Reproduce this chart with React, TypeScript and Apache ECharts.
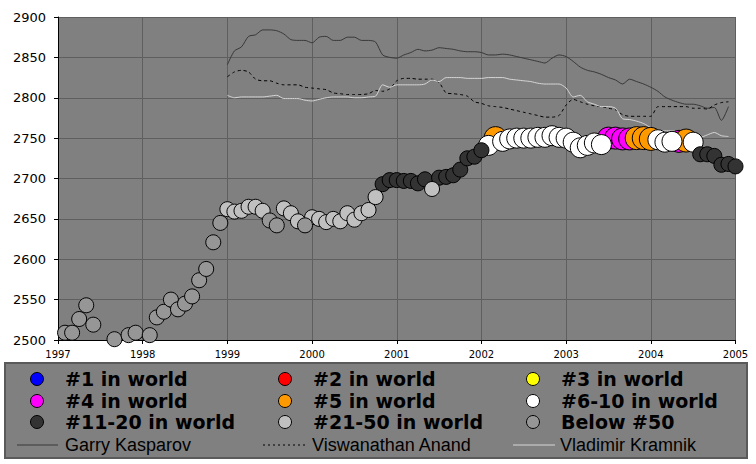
import React, { useEffect, useRef } from 'react';
import * as echarts from 'echarts';

// ---------- DATA ----------
const categories = [
  '#1 in world', '#2 in world', '#3 in world',
  '#4 in world', '#5 in world', '#6-10 in world',
  '#11-20 in world', '#21-50 in world', 'Below #50',
];

// player's monthly rating (month, rating, world-rank category index into `categories`)
const playerMonths = [
  '1997-02', '1997-03', '1997-04', '1997-05', '1997-06', '1997-09', '1997-11', '1997-12',
  '1998-02', '1998-03', '1998-04', '1998-05', '1998-06', '1998-07', '1998-08', '1998-09', '1998-10', '1998-11', '1998-12',
  '1999-01', '1999-02', '1999-03', '1999-04', '1999-05', '1999-06', '1999-07', '1999-08', '1999-09', '1999-10', '1999-11', '1999-12',
  '2000-01', '2000-02', '2000-03', '2000-04', '2000-05', '2000-06', '2000-07', '2000-08', '2000-09', '2000-10', '2000-11', '2000-12',
  '2001-01', '2001-02', '2001-03', '2001-04', '2001-05', '2001-06', '2001-07', '2001-08', '2001-09', '2001-10', '2001-11', '2001-12',
  '2002-01', '2002-02', '2002-03', '2002-04', '2002-05', '2002-06', '2002-07', '2002-08', '2002-09', '2002-10', '2002-11', '2002-12',
  '2003-01', '2003-02', '2003-03', '2003-04', '2003-05', '2003-06', '2003-07', '2003-08', '2003-09', '2003-10', '2003-11', '2003-12',
  '2004-01', '2004-02', '2004-03', '2004-04', '2004-05', '2004-06', '2004-07', '2004-08', '2004-09', '2004-10', '2004-11', '2004-12',
  '2005-01',
];
const playerRatings = [
  2509, 2509, 2526, 2543, 2519, 2501, 2506, 2509,
  2506, 2528, 2535, 2550, 2538, 2545, 2554, 2574, 2588, 2621, 2645,
  2662, 2659, 2660, 2665, 2665, 2660, 2648, 2642, 2663, 2657, 2647, 2642,
  2652, 2650, 2646, 2650, 2647, 2657, 2649, 2657, 2661, 2677, 2693, 2698,
  2698, 2697, 2697, 2694, 2699, 2687, 2701, 2702, 2704, 2711, 2725, 2727,
  2735, 2741, 2750, 2746, 2749, 2750, 2750, 2750, 2751, 2751, 2753, 2751,
  2750, 2745, 2738, 2741, 2744, 2742, 2750, 2750, 2749, 2749, 2750, 2750,
  2749, 2748, 2745, 2746, 2746, 2747, 2745, 2730, 2730, 2728, 2717, 2718,
  2715,
];
const playerRanks = [
  8, 8, 8, 8, 8, 8, 8, 8,
  8, 8, 8, 8, 8, 8, 8, 8, 8, 8, 8,
  7, 7, 7, 7, 7, 7, 8, 8, 7, 7, 7, 8,
  7, 7, 7, 7, 7, 7, 7, 7, 7, 7, 6, 6,
  6, 6, 6, 6, 6, 7, 6, 6, 6, 6, 6, 6,
  6, 5, 4, 5, 5, 5, 5, 5, 5, 5, 5, 5,
  5, 5, 5, 5, 5, 5, 3, 3, 3, 3, 4, 4,
  4, 5, 5, 5, 3, 4, 5, 6, 6, 6, 6, 6,
  6,
];

// comparison players, consecutive months from 1999-01 to 2004-12
const lineStartMonth = '1999-01';
const kasparov = [
  2841, 2858, 2863, 2876, 2878, 2884, 2884, 2883, 2879, 2872, 2871, 2871,
  2868, 2875, 2876, 2871, 2871, 2875, 2875, 2871, 2871, 2869, 2853, 2850,
  2849, 2853, 2856, 2860, 2858, 2859, 2862, 2861, 2860, 2858, 2857, 2857,
  2856, 2853, 2853, 2854, 2853, 2851, 2849, 2847, 2845, 2843, 2849, 2853,
  2851, 2845, 2838, 2834, 2832, 2829, 2825, 2822, 2817, 2823, 2820, 2817,
  2813, 2808, 2801, 2797, 2794, 2792, 2792, 2790, 2787, 2788, 2772, 2789,
];
const anand = [
  2826, 2832, 2834, 2832, 2823, 2821, 2821, 2818, 2816, 2816, 2816, 2813,
  2812, 2811, 2810, 2806, 2805, 2804, 2804, 2804, 2805, 2809, 2808, 2811,
  2821, 2824, 2824, 2823, 2823, 2823, 2819, 2806, 2805, 2804, 2802, 2795,
  2793, 2790, 2789, 2788, 2786, 2784, 2782, 2780, 2778, 2776, 2776, 2778,
  2791, 2798, 2795, 2792, 2790, 2789, 2787, 2785, 2779, 2777, 2777, 2777,
  2777, 2789, 2789, 2789, 2789, 2789, 2787, 2787, 2786, 2791, 2794, 2795,
];
const kramnik = [
  2803, 2800, 2801, 2801, 2801, 2801, 2802, 2803, 2799, 2799, 2799, 2797,
  2796, 2798, 2800, 2801, 2801, 2801, 2800, 2800, 2801, 2802, 2816, 2813,
  2816, 2816, 2816, 2816, 2817, 2822, 2820, 2825, 2825, 2825, 2824, 2824,
  2824, 2825, 2825, 2825, 2823, 2822, 2821, 2820, 2818, 2817, 2817, 2817,
  2812, 2801, 2803, 2795, 2792, 2789, 2789, 2787, 2774, 2773, 2771, 2768,
  2763, 2760, 2759, 2759, 2757, 2755, 2753, 2751, 2754, 2757, 2753, 2752,
];
const lineNames = ['Garry Kasparov', 'Viswanathan Anand', 'Vladimir Kramnik'];
const yearMin = 1997;
const yearMax = 2005;
const ratingMin = 2500;
const ratingMax = 2900;

// ---------- STYLES ----------
const catColors = ['#0000ff', '#ff0000', '#ffff00', '#ff00ff', '#ff9900', '#ffffff', '#333333', '#c0c0c0', '#969696'];
const catSizes = [24, 24, 24, 22, 23, 20, 15, 15, 15];

function monthToYear(m: string): number {
  const [y, mo] = m.split('-').map(Number);
  return y + (mo - 1) / 12;
}

function lineData(values: number[]) {
  const start = monthToYear(lineStartMonth);
  return values.map((v, i) => [start + i / 12, v]);
}

export default function App() {
  const ref = useRef<HTMLDivElement>(null);

  useEffect(() => {
    if (!ref.current) return;
    const chart = echarts.init(ref.current, undefined, { renderer: 'svg' });

    const scatterSeries = categories.map((name, ci) => ({
      name,
      type: 'scatter',
      z: 3 + ci,
      clip: false,
      symbol: 'circle',
      symbolSize: catSizes[ci],
      itemStyle: { color: catColors[ci], borderColor: '#000', borderWidth: 1, opacity: 1 },
      data: playerMonths
        .map((m, i) => ({ x: monthToYear(m), v: playerRatings[i], c: playerRanks[i] }))
        .filter((p) => p.c === ci)
        .map((p) => [p.x, p.v]),
    }));

    const lineStyles = [
      { color: '#383838', width: 1, type: 'solid' },
      { color: '#000000', width: 1, type: [3, 3] },
      { color: '#d6d6d6', width: 1, type: 'solid' },
    ];
    const lineSeries = [kasparov, anand, kramnik].map((vals, li) => ({
      name: lineNames[li],
      type: 'line',
      z: 2,
      symbol: 'none',
      showSymbol: false,
      smooth: 0.25,
      lineStyle: lineStyles[li],
      data: lineData(vals),
    }));

    // legend drawn as graphic
    const legendEls: any[] = [
      {
        type: 'rect',
        shape: { x: 5, y: 363, width: 742, height: 95 },
        style: { fill: '#808080', stroke: '#5a5a5a', lineWidth: 2 },
        z: 20,
      },
    ];
    const colX = [37, 285, 533];
    const rowY = [379, 401, 422];
    categories.forEach((name, ci) => {
      const col = ci % 3;
      const row = Math.floor(ci / 3);
      legendEls.push({
        type: 'circle',
        shape: { cx: colX[col], cy: rowY[row], r: 6.5 },
        style: { fill: catColors[ci], stroke: '#000', lineWidth: 1 },
        z: 21,
      });
      legendEls.push({
        type: 'text',
        x: colX[col] + 28,
        y: rowY[row],
        style: {
          text: name,
          fill: '#000',
          font: 'bold 19px "DejaVu Sans", Verdana, sans-serif',
          textAlign: 'left',
          textVerticalAlign: 'middle',
        },
        z: 21,
      });
    });
    const lineSampleX = [[17, 58], [263, 305], [513, 555]];
    const lineTextX = [65, 312, 560];
    lineNames.forEach((name, li) => {
      legendEls.push({
        type: 'line',
        shape: { x1: lineSampleX[li][0], y1: 445, x2: lineSampleX[li][1], y2: 445 },
        style: { stroke: lineStyles[li].color, lineWidth: 1, lineDash: li === 1 ? [2, 3] : null },
        z: 21,
      });
      legendEls.push({
        type: 'text',
        x: lineTextX[li],
        y: 445,
        style: {
          text: name,
          fill: '#000',
          font: '18px "Liberation Sans", Arial, sans-serif',
          textAlign: 'left',
          textVerticalAlign: 'middle',
        },
        z: 21,
      });
    });

    chart.setOption({
      animation: false,
      backgroundColor: '#ffffff',
      grid: {
        left: 58,
        top: 17,
        width: 677.5,
        height: 323,
        show: true,
        backgroundColor: '#808080',
        borderWidth: 0,
      },
      xAxis: {
        type: 'value',
        min: yearMin,
        max: yearMax,
        interval: 1,
        axisLine: { show: true, onZero: false, lineStyle: { color: '#000', width: 1 } },
        axisTick: { show: true, length: 4, lineStyle: { color: '#000' } },
        axisLabel: {
          color: '#000',
          fontFamily: '"DejaVu Sans", Verdana, sans-serif',
          fontSize: 10,
          margin: 9,
          formatter: (v: number) => String(Math.round(v)),
        },
        splitLine: { show: true, lineStyle: { color: '#5f5f5f', width: 1 } },
      },
      yAxis: {
        type: 'value',
        min: ratingMin,
        max: ratingMax,
        interval: 50,
        axisLine: { show: true, onZero: false, lineStyle: { color: '#000', width: 1 } },
        axisTick: { show: true, length: 4, lineStyle: { color: '#000' } },
        axisLabel: {
          color: '#000',
          fontFamily: '"DejaVu Sans", Verdana, sans-serif',
          fontSize: 13,
          margin: 12,
          formatter: (v: number) => String(Math.round(v)),
        },
        splitLine: { show: true, lineStyle: { color: '#5f5f5f', width: 1 } },
      },
      series: [...lineSeries, ...scatterSeries],
      graphic: legendEls,
    });

    return () => chart.dispose();
  }, []);

  return (
    <div
      ref={ref}
      style={{ position: 'fixed', left: 0, top: 0, width: 756, height: 464, background: '#fff' }}
    />
  );
}
